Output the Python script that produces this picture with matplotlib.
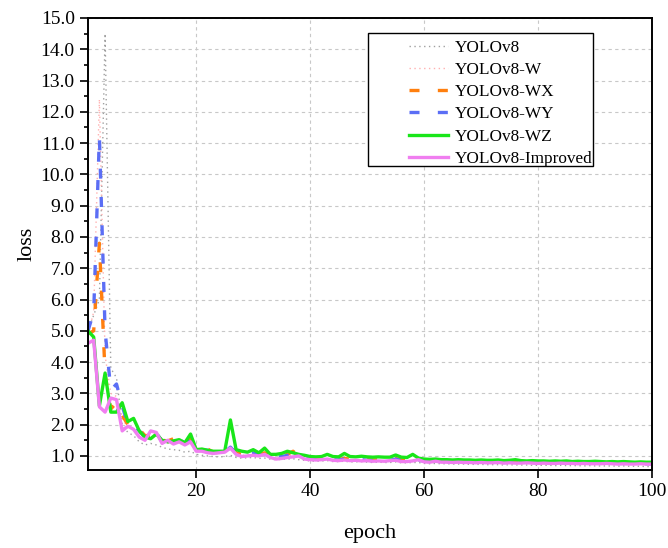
import numpy as np
import matplotlib
matplotlib.use("Agg")
import matplotlib.pyplot as plt
from matplotlib.patches import Rectangle
from matplotlib.ticker import MultipleLocator, FormatStrFormatter

plt.rcParams['font.family'] = ['Liberation Serif', 'DejaVu Serif']
plt.rcParams['mathtext.fontset'] = 'stix'

epochs = list(range(1, 101))

yolov8 = [5.00, 5.50, 6.00, 14.50, 3.80, 3.50, 2.00, 1.75, 1.65, 1.45,
          1.35, 1.40, 1.35, 1.28, 1.22, 1.20, 1.18, 1.12, 1.15, 1.05,
          1.02, 1.00, 0.98, 0.97, 0.98, 1.02, 0.95, 0.93, 0.94, 0.95,
          0.92, 0.93, 0.90, 0.88, 0.89, 0.90, 0.91, 0.88, 0.86, 0.84,
          0.83, 0.84, 0.85, 0.82, 0.82, 0.83, 0.81, 0.81, 0.82, 0.80,
          0.79, 0.80, 0.79, 0.79, 0.81, 0.78, 0.78, 0.79, 0.79, 0.76,
          0.75, 0.76, 0.75, 0.75, 0.74, 0.74, 0.74, 0.73, 0.73, 0.73,
          0.72, 0.72, 0.72, 0.71, 0.72, 0.71, 0.71, 0.71, 0.70, 0.70,
          0.70, 0.70, 0.69, 0.70, 0.69, 0.69, 0.69, 0.68, 0.69, 0.68,
          0.68, 0.68, 0.68, 0.67, 0.68, 0.67, 0.67, 0.67, 0.66, 0.66]

yolov8_w = [4.90, 5.60, 12.40, 4.20, 3.00, 2.90, 2.20, 1.90, 1.90, 1.70,
            1.55, 1.60, 1.65, 1.45, 1.40, 1.45, 1.50, 1.38, 1.50, 1.18,
            1.18, 1.15, 1.10, 1.08, 1.10, 1.22, 1.05, 1.02, 1.03, 1.08,
            1.00, 1.05, 0.96, 0.94, 0.96, 1.00, 1.02, 0.95, 0.91, 0.88,
            0.87, 0.88, 0.90, 0.86, 0.85, 0.88, 0.86, 0.85, 0.86, 0.84,
            0.83, 0.84, 0.83, 0.84, 0.88, 0.83, 0.82, 0.86, 0.85, 0.81,
            0.80, 0.82, 0.80, 0.80, 0.79, 0.80, 0.79, 0.79, 0.78, 0.79,
            0.78, 0.78, 0.78, 0.77, 0.78, 0.78, 0.77, 0.77, 0.77, 0.76,
            0.76, 0.76, 0.76, 0.76, 0.75, 0.76, 0.75, 0.75, 0.76, 0.75,
            0.75, 0.74, 0.75, 0.74, 0.74, 0.74, 0.74, 0.74, 0.73, 0.73]

yolov8_wx = [4.90, 5.00, 7.80, 3.60, 2.50, 2.70, 2.30, 2.00, 2.05, 1.85,
             1.65, 1.65, 1.75, 1.50, 1.48, 1.55, 1.57, 1.42, 1.60, 1.22,
             1.20, 1.22, 1.12, 1.10, 1.15, 1.30, 1.10, 1.05, 1.08, 1.12,
             1.05, 1.10, 1.00, 0.98, 1.00, 1.05, 1.15, 0.98, 0.95, 0.92,
             0.90, 0.92, 0.94, 0.90, 0.89, 0.92, 0.90, 0.89, 0.90, 0.88,
             0.87, 0.88, 0.87, 0.88, 0.92, 0.87, 0.86, 0.90, 0.88, 0.84,
             0.84, 0.85, 0.83, 0.83, 0.82, 0.83, 0.82, 0.82, 0.81, 0.82,
             0.81, 0.81, 0.81, 0.80, 0.81, 0.81, 0.80, 0.80, 0.80, 0.79,
             0.79, 0.79, 0.79, 0.79, 0.78, 0.79, 0.78, 0.78, 0.79, 0.78,
             0.78, 0.77, 0.78, 0.77, 0.77, 0.77, 0.77, 0.77, 0.76, 0.76]

yolov8_wy = [5.00, 5.60, 11.20, 5.00, 3.10, 3.30, 2.60, 2.00, 2.00, 1.80,
             1.60, 1.60, 1.75, 1.45, 1.45, 1.50, 1.55, 1.40, 1.55, 1.20,
             1.20, 1.18, 1.12, 1.10, 1.12, 1.28, 1.08, 1.05, 1.05, 1.10,
             1.03, 1.08, 0.98, 0.96, 0.98, 1.02, 1.05, 0.97, 0.93, 0.90,
             0.89, 0.90, 0.92, 0.88, 0.87, 0.90, 0.88, 0.87, 0.88, 0.86,
             0.85, 0.86, 0.85, 0.86, 0.90, 0.85, 0.84, 0.88, 0.87, 0.83,
             0.82, 0.84, 0.82, 0.82, 0.81, 0.82, 0.81, 0.81, 0.80, 0.81,
             0.80, 0.80, 0.80, 0.79, 0.80, 0.80, 0.79, 0.79, 0.79, 0.78,
             0.78, 0.78, 0.78, 0.78, 0.77, 0.78, 0.77, 0.77, 0.78, 0.77,
             0.77, 0.76, 0.77, 0.76, 0.76, 0.76, 0.76, 0.76, 0.75, 0.75]

yolov8_wz = [5.00, 4.80, 2.60, 3.65, 2.40, 2.40, 2.70, 2.10, 2.20, 1.80,
             1.60, 1.55, 1.70, 1.50, 1.45, 1.48, 1.52, 1.42, 1.70, 1.20,
             1.22, 1.18, 1.15, 1.15, 1.15, 2.15, 1.20, 1.15, 1.12, 1.20,
             1.10, 1.25, 1.05, 1.05, 1.08, 1.15, 1.10, 1.05, 1.02, 0.98,
             0.97, 0.98, 1.05, 0.98, 0.97, 1.08, 0.98, 0.97, 0.99, 0.97,
             0.96, 0.97, 0.96, 0.96, 1.03, 0.96, 0.95, 1.05, 0.93, 0.90,
             0.89, 0.90, 0.88, 0.88, 0.87, 0.88, 0.87, 0.87, 0.86, 0.87,
             0.86, 0.86, 0.87, 0.85, 0.86, 0.88, 0.85, 0.84, 0.85, 0.84,
             0.84, 0.83, 0.84, 0.83, 0.84, 0.82, 0.83, 0.82, 0.82, 0.83,
             0.82, 0.81, 0.82, 0.81, 0.82, 0.81, 0.80, 0.81, 0.80, 0.80]

yolov8_improved = [4.60, 4.70, 2.57, 2.40, 2.85, 2.80, 1.80, 1.95, 1.85, 1.60,
                   1.50, 1.80, 1.75, 1.40, 1.50, 1.38, 1.45, 1.35, 1.45, 1.15,
                   1.15, 1.10, 1.08, 1.10, 1.12, 1.25, 1.05, 0.98, 1.00, 1.02,
                   1.00, 1.05, 0.95, 0.90, 0.92, 0.95, 0.97, 1.00, 0.90, 0.88,
                   0.87, 0.88, 0.90, 0.86, 0.85, 0.87, 0.85, 0.86, 0.84, 0.85,
                   0.83, 0.84, 0.83, 0.85, 0.86, 0.82, 0.82, 0.84, 0.88, 0.81,
                   0.80, 0.83, 0.80, 0.80, 0.79, 0.80, 0.79, 0.79, 0.78, 0.79,
                   0.78, 0.78, 0.79, 0.77, 0.78, 0.77, 0.77, 0.78, 0.77, 0.76,
                   0.77, 0.76, 0.76, 0.77, 0.76, 0.76, 0.75, 0.76, 0.75, 0.75,
                   0.75, 0.76, 0.75, 0.74, 0.75, 0.74, 0.74, 0.75, 0.74, 0.74]

labels = ["YOLOv8", "YOLOv8-W", "YOLOv8-WX", "YOLOv8-WY", "YOLOv8-WZ", "YOLOv8-Improved"]
x_ticks = [20, 40, 60, 80, 100]

fig = plt.figure(figsize=(6.68, 5.48), dpi=100)
ax = fig.add_axes([88/668, 1-470/548, (652-88)/668, (470-18)/548])

ax.grid(True, which='major', color='#c8c8c8', linestyle=(0, (3, 3)), linewidth=0.8)
ax.set_axisbelow(True)

h = []
h += ax.plot(epochs, yolov8, color='#a0a0a0', linestyle=(0, (1, 2.5)), linewidth=1.0, label=labels[0])
h += ax.plot(epochs, yolov8_w, color='#ffb0b0', linestyle=(0, (1, 2.5)), linewidth=1.0, label=labels[1])
h += ax.plot(epochs, yolov8_wx, color='#ff7f0e', linestyle=(0, (3, 5.5)), linewidth=2.4, label=labels[2])
h += ax.plot(epochs, yolov8_wy, color='#5b6ef5', linestyle=(0, (3, 5.5)), linewidth=2.4, label=labels[3])
h += ax.plot(epochs, yolov8_wz, color='#19e619', linestyle='-', linewidth=2.4, label=labels[4])
h += ax.plot(epochs, yolov8_improved, color='#f07ef0', linestyle='-', linewidth=2.4, label=labels[5])

ax.set_xlim(1, 100)
ax.set_ylim(0.55, 15.0)
ax.set_xticks(x_ticks)
ax.yaxis.set_major_locator(MultipleLocator(1.0))
ax.yaxis.set_minor_locator(MultipleLocator(0.5))
ax.yaxis.set_major_formatter(FormatStrFormatter('%.1f'))
ax.tick_params(axis='both', which='major', direction='out', length=6, width=1.2, labelsize=14, colors='black')
ax.tick_params(axis='y', which='minor', direction='out', length=3, width=1.2)
for s in ax.spines.values():
    s.set_linewidth(1.4)
    s.set_color('black')

ax.set_xlabel('epoch', fontsize=16, labelpad=17)
ax.set_ylabel('loss', fontsize=16, labelpad=3)

ax.add_patch(Rectangle((0.4965, 0.6726), 0.399, 0.295, transform=ax.transAxes,
                       fill=True, facecolor='white', edgecolor='black', linewidth=1.0, zorder=5))
leg = ax.legend(handles=h, loc='upper left', bbox_to_anchor=(0.569, 0.951), frameon=False,
                fontsize=12.4, handlelength=2.27, handletextpad=0.4, labelspacing=0.35,
                borderpad=0, borderaxespad=0)
leg.set_zorder(6)

fig.savefig('out.png', dpi=100)
